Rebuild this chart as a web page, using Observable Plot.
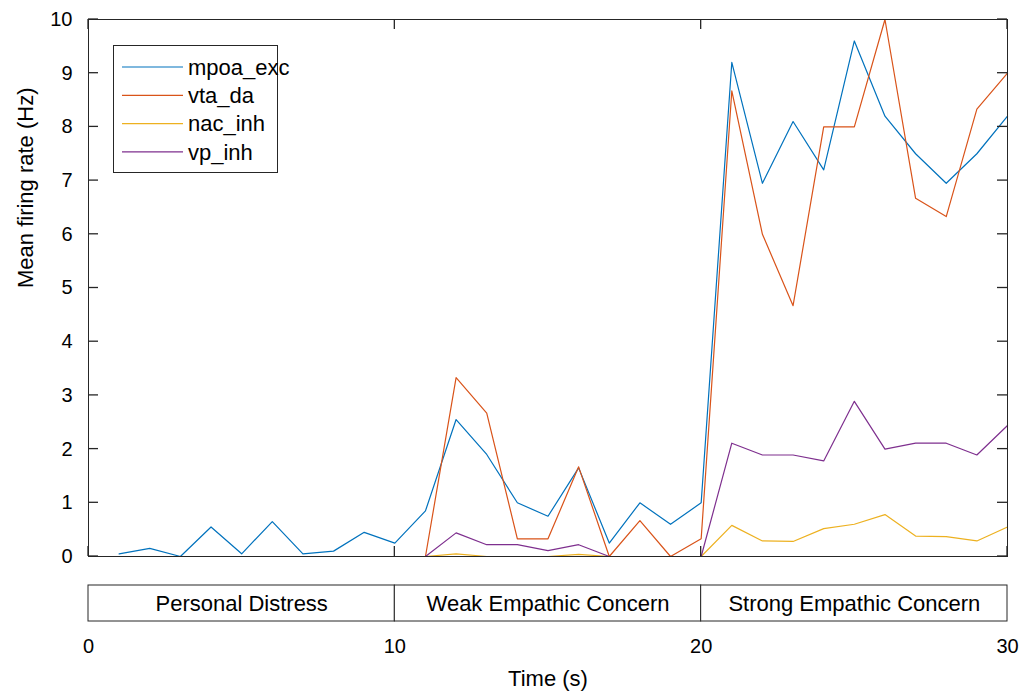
<!DOCTYPE html>
<html><head><meta charset="utf-8">
<script src="https://cdn.jsdelivr.net/npm/d3@7"></script>
<script src="https://cdn.jsdelivr.net/npm/@observablehq/plot@0.6"></script>
<style>
body{margin:0;background:#fff;}
#chart{width:1033px;font-family:"Liberation Sans",Arial,sans-serif;}
#chart svg{display:block;}
</style></head><body><div id="chart"></div>
<script>
const time = [1,2,3,4,5,6,7,8,9,10,11,12,13,14,15,16,17,18,19,20,21,22,23,24,25,26,27,28,29,30];
const mpoa_exc = [0.05,0.15,0,0.55,0.05,0.65,0.05,0.1,0.45,0.25,0.85,2.55,1.9,1.0,0.75,1.65,0.25,1.0,0.6,1.0,9.2,6.95,8.1,7.2,9.6,8.2,7.5,6.95,7.5,8.2];
const vta_da = [0,0,0,0,0,0,0,0,0,0,0,3.33,2.67,0.33,0.33,1.67,0,0.67,0,0.33,8.67,6.0,4.67,8.0,8.0,10.0,6.67,6.33,8.33,9.0];
const nac_inh = [0,0,0,0,0,0,0,0,0,0,0,0.05,0,0,0,0.04,0,0,0,0,0.58,0.29,0.28,0.52,0.6,0.78,0.38,0.37,0.29,0.55];
const vp_inh = [0,0,0,0,0,0,0,0,0,0,0,0.44,0.22,0.22,0.11,0.22,0,0,0,0,2.11,1.89,1.89,1.78,2.89,2.0,2.11,2.11,1.89,2.44];
const seriesNames = ["mpoa_exc","vta_da","nac_inh","vp_inh"];
const seriesColors = ["#0072BD","#D95319","#EDB120","#7E2F8E"];
const yTicks = [0,1,2,3,4,5,6,7,8,9,10];
const xTicks = [0,10,20,30];
const phaseLabels = ["Personal Distress","Weak Empathic Concern","Strong Empathic Concern"];
const phaseStart = [0,10,20];
const phaseEnd = [10,20,30];
const yLabel = "Mean firing rate (Hz)";
const xLabel = "Time (s)";

const seriesValues = [mpoa_exc, vta_da, nac_inh, vp_inh];
const rows = [];
seriesNames.forEach((s, i) => time.forEach((t, j) => rows.push({series: s, t, v: seriesValues[i][j]})));
const phases = phaseLabels.map((label, i) => ({label, start: phaseStart[i], end: phaseEnd[i]}));

const axisColor = "#262626";
const W = 1033;
const T = 10; // inward tick length

const main = Plot.plot({
  width: W, height: 570,
  marginLeft: 88, marginRight: 26, marginTop: 19, marginBottom: 14,
  style: {fontFamily: '"Liberation Sans", Arial, sans-serif', fontSize: "20px", color: axisColor, background: "white", overflow: "visible"},
  x: {domain: [0, 30]},
  y: {domain: [0, 10]},
  color: {domain: seriesNames, range: seriesColors},
  marks: [
    Plot.line(rows, {x: "t", y: "v", z: "series", stroke: "series", strokeWidth: 1.2}),
    Plot.frame({stroke: axisColor, strokeWidth: 1}),
    Plot.axisY({anchor: "left", ticks: yTicks, tickSize: 0, tickPadding: 16, fontSize: 20, fill: "#000", label: null}),
    Plot.axisX({anchor: "bottom", ticks: [], tickSize: 0, label: null}),
    Plot.text([yLabel], {text: d => d, frameAnchor: "left", rotate: -90, dx: -63, fontSize: 22, fill: "#000", lineAnchor: "middle"})
  ]
});

// inward tick marks (MATLAB style) placed via the plot's own scales
{
  const sx = main.scale("x"), sy = main.scale("y");
  const xr = sx.range, yr = sy.range;
  const x0 = Math.min(...xr), x1 = Math.max(...xr), yb = Math.max(...yr), yt = Math.min(...yr);
  const ns = "http://www.w3.org/2000/svg";
  const g = document.createElementNS(ns, "g");
  const mk = (a, b, c, d) => {
    const l = document.createElementNS(ns, "line");
    l.setAttribute("x1", a); l.setAttribute("x2", b); l.setAttribute("y1", c); l.setAttribute("y2", d);
    l.setAttribute("stroke", axisColor); l.setAttribute("stroke-width", "1.3");
    g.appendChild(l);
  };
  yTicks.forEach(v => {
    const y = sy.apply(v);
    mk(x0, x0 + T, y, y);
    mk(x1, x1 - T, y, y);
  });
  xTicks.forEach(v => {
    const x = sx.apply(v);
    mk(x, x, yb, yb - T);
    mk(x, x, yt, yt + T);
  });
  main.appendChild(g);
}

const band = Plot.plot({
  width: W, height: 121,
  marginLeft: 88, marginRight: 26, marginTop: 15, marginBottom: 70,
  style: {fontFamily: '"Liberation Sans", Arial, sans-serif', fontSize: "20px", color: axisColor, background: "white", overflow: "visible"},
  x: {domain: [0, 30]},
  marks: [
    Plot.barX(phases, {x1: "start", x2: "end", fill: "white", stroke: axisColor, strokeWidth: 1}),
    Plot.text(phases, {x: d => (d.start + d.end) / 2, text: "label", fontSize: 22, fill: "#000"}),
    Plot.axisX({anchor: "bottom", ticks: xTicks, tickSize: 0, tickPadding: 17, fontSize: 20, fill: "#000", label: null}),
    Plot.text([xLabel], {text: d => d, frameAnchor: "bottom", dy: 57, fontSize: 22, fill: "#000", lineAnchor: "middle"})
  ]
});

// legend (MATLAB-style box, upper left)
const lg = d3.select(main).append("g").attr("class", "legend").attr("text-anchor", "start");
lg.append("rect").attr("x", 113.5).attr("y", 45.5).attr("width", 164).attr("height", 127)
  .attr("fill", "white").attr("stroke", axisColor).attr("stroke-width", 1);
seriesNames.forEach((s, i) => {
  const y = 67 + i * 28.3;
  lg.append("line").attr("x1", 122).attr("x2", 183).attr("y1", y).attr("y2", y)
    .attr("stroke", seriesColors[i]).attr("stroke-width", 1.2);
  lg.append("text").attr("x", 188).attr("y", y).attr("dy", "0.35em")
    .attr("text-anchor", "start").attr("font-size", 22).attr("fill", "#000").text(s);
});

document.getElementById("chart").append(main, band);
</script></body></html>
